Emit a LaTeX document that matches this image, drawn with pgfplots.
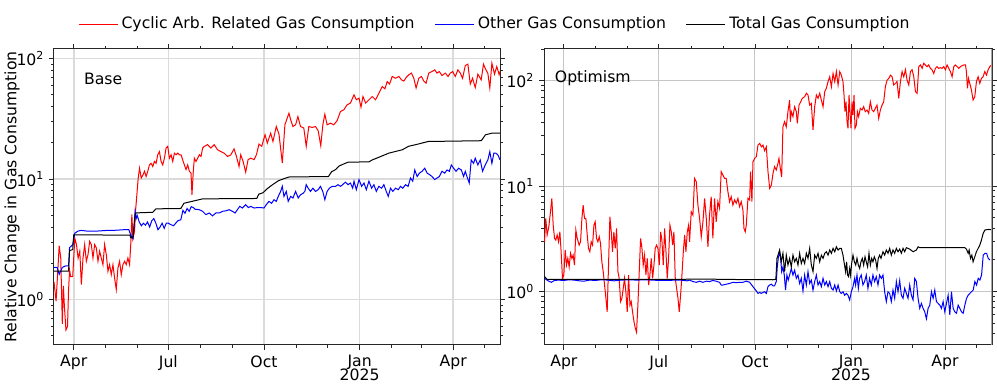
\documentclass[border=0pt]{standalone}
\usepackage{fontspec}
\setmainfont{DejaVu Sans}
\usepackage{pgfplots}
\pgfplotsset{compat=1.18}

\newcommand{\sups}[1]{\raisebox{3.9pt}{\fontsize{6.6}{7}\selectfont #1}}

% 1 px of the reference = 0.6pt
\pgfplotsset{
  gaspanel/.style={
    scale only axis, height=177.6pt,
    xmin=-19, xmax=410,
    axis line style={black!85, line width=0.6pt},
    tick align=outside, major tick length=3pt, minor tick length=1.8pt,
    every tick/.style={black!85, line width=0.5pt},
    xtick={0,91,183,275,365},
    xticklabels={Apr,Jul,Oct,{Jan\\[-1.7pt]2025},Apr},
    xticklabel style={align=center, font=\fontsize{9.4}{9.6}\selectfont},
    minor xtick={30,61,122,153,214,244,306,334,395},
    ytick={1,10,100},
    yticklabels={10\sups{0},10\sups{1},10\sups{2}},
    yticklabel style={font=\fontsize{9.4}{11}\selectfont},
    minor ytick={0.4,0.5,0.6,0.7,0.8,0.9,2,3,4,5,6,7,8,9,20,30,40,50,60,70,80,90,200},
    xmajorgrids, ymajorgrids,
    every axis plot/.append style={line width=0.6pt},
  },
}

\begin{document}
\fontsize{9.4}{11}\selectfont
\begin{tikzpicture}
\path[use as bounding box] (0,0) rectangle (598.2pt,232.2pt);

\begin{axis}[ymode=log, gaspanel, at={(32.4pt,25.2pt)}, anchor=south west, width=267.6pt,
  ymin=0.42, ymax=120,
  major grid style={gray!28, line width=0.9pt},
  ylabel={Relative Change in Gas Consumption},
  ylabel style={at={(axis description cs:-0.094,0.5)}, anchor=center},
  legend style={at={(0.99,1.084)}, anchor=center, draw=none, fill=none,
    legend columns=3, font=\fontsize{9.4}{11}\selectfont,
    /tikz/every even column/.append style={column sep=10pt}},
  legend image code/.code={\draw[#1] (0pt,0pt) -- (21pt,0pt); \path (21pt,0pt) -- (23.4pt,0pt);},
]
\addplot[red] coordinates {
(-19,1.4) (-17,0.97) (-14,2.8) (-12.5,2.2) (-11,0.63) (-10,1.3) (-9,0.88) (-7.5,0.56) (-6,0.6) (-5,1.2) (-4,1.75) (-3,1.55) (-1,1.55)
(1,3.24) (2.6,2.86) (4.2,2.21) (5.8,2.52) (7.3,1.33) (8.9,2.21) (10.5,2.86) (12.1,2.08) (13.7,2.36) (15.3,3.05) (16.9,2.86) (18.5,2.21)
(20.1,2.86) (21.7,2.68) (23.3,2.08) (24.9,2.52) (26.5,2.21) (28.1,1.95) (29.7,2.86) (31.3,2.36) (32.9,1.72) (34.5,1.95) (36.1,1.61)
(37.7,1.95) (39.3,1.51) (40.9,1.21) (42.5,1.83) (44.1,2.08) (45.7,1.61) (47.3,1.95) (48.9,2.08) (50.5,1.95) (52.1,2.21) (53.7,1.95)
(55,3.05) (55.9,5.1) (56.9,3.2) (58.5,3.7) (59.4,5.4) (60.7,7.4) (62,10.2) (63.3,12.3) (64.9,10.2) (66.5,10.8) (68.1,11.6) (69.6,10.5)
(71.2,11.6) (72.8,13.1) (74.4,13.5) (76,12.7) (77.6,14.0) (79.2,13.5) (80.8,15.9) (82.4,16.9) (84,14.0) (85.6,13.1) (87.2,14.9)
(88.8,18.1) (90.4,18.7) (92,14.9) (93.6,15.9) (95.2,14.0) (96.8,16.4) (98.4,15.9) (100,16.4) (101.6,15.9) (103.2,15.9) (104.8,14.4)
(106.4,13.1) (108,12.0) (109.6,13.1) (111.2,11.6) (112.8,11.2) (113.7,7.4) (115,11.6) (116,14.9) (117.6,14.0) (119.2,14.9) (120.8,15.9)
(122.4,15.4) (124,18.1) (125.6,18.7) (128.7,19.3) (131.9,18.1) (135.1,19.3) (138.3,17.5) (141.5,16.9) (144.7,16.4) (147.9,15.4)
(151.1,15.9) (154.2,17.8) (156.5,15.4) (159.0,12.7) (160.6,15.9) (162.9,14.0) (165.4,11.4) (167.7,14.5) (170.2,14.9) (173.4,14.5)
(175.7,15.9) (178.2,19.5) (180.8,18.7) (184.0,23.3) (186.2,19.9) (189.4,24.0) (191.6,20.5) (194.8,27.3) (197.4,23.6) (200.6,13.6)
(203.1,28.2) (207.0,35.2) (208.6,31.1) (210.8,27.3) (213.4,28.2) (215.6,33.0) (218.1,27.3) (221.3,26.5) (223.6,18.7) (226.1,27.3)
(229.3,26.8) (232.5,27.3) (235.1,25.2) (237.6,18.9) (239.6,28.2) (241.5,34.5) (243.7,28.2) (246.9,29.1) (250.1,28.2) (253.3,30.5)
(256.5,36.3) (259.7,37.5) (262.9,41.3) (266.1,42.7) (269.6,50.0) (271.8,45.5) (274.4,46.9) (276.3,39.5) (278.2,48.4) (280.8,42.7)
(284.0,45.5) (287.1,48.4) (290.3,45.5) (293.5,51.6) (296.7,58.6) (299.3,56.0) (301.5,64.5) (303.8,61.4) (306.3,71.0) (309.5,68.6)
(312.7,71.0) (315.3,66.5) (317.5,65.0) (319.8,69.7) (322.3,73.4) (324.8,75.7) (327.1,68.6) (329.3,56.9) (331.9,68.6) (334.4,71.0)
(336.7,65.0) (338.9,62.5) (341.5,75.7) (344.6,78.0) (347.2,80.6) (349.4,75.7) (351.6,78.0) (354.2,72.3) (357.4,75.7) (360.0,71.0)
(362.2,75.7) (364.5,78.0) (367.0,71.0) (369.5,80.6) (371.8,75.7) (374.0,68.6) (376.6,87.4) (379.1,89.8) (381.4,61.4) (383.6,68.6)
(386.2,57.4) (388.7,74.2) (391.9,66.5) (394.1,89.8) (396.4,80.6) (398.3,75.7) (400.2,56.9) (402.2,91.6) (404.7,74.2) (406.9,85.9)
(409.2,73.4) (410,78)
};
\addlegendentry{Cyclic Arb. Related Gas Consumption}
\addplot[blue] coordinates {
(-19,1.85) (-16,1.85) (-14,1.62) (-11,1.85) (-8,1.9) (-5,1.9) (-4,2.7) (-1,2.85) (1,3.55) (4,3.7) (7,3.75) (13,3.7) (22,3.7) (32,3.75)
(38,3.75) (48,3.8) (53,3.8) (55,3.4) (57,3.2) (58,4.0) (59,5.4) (60,4.7) (61,5.0) (63,4.4) (65,4.1) (67,4.3) (69,4.15) (71,4.4)
(73,4.0) (75,4.5) (77,4.7) (79,4.3) (81,3.8) (83,4.0) (85,4.3) (87,3.9) (89,4.3) (91,4.3) (93,4.2) (96,4.1) (100,4.5) (103,4.6)
(105,5.5) (107,5.2) (109,5.7) (111,5.4) (113,5.9) (115,5.8) (117,5.6) (119,5.6) (120.7,5.57) (123.9,5.40) (127.1,5.07) (130.3,5.23)
(133.5,4.95) (136.7,5.23) (139.9,5.23) (143.1,5.40) (146.3,5.45) (149.5,5.57) (152.6,5.40) (155.2,5.23) (157.4,5.57) (159.7,5.94)
(162.2,5.75) (165.4,6.13) (168.0,5.8) (170.2,5.94) (173.4,5.75) (176.6,5.8) (179.8,5.8) (183.0,5.75) (185.2,6.13) (187.8,6.53)
(190.3,6.3) (192.6,6.74) (194.8,6.53) (196.7,7.18) (199.0,7.90) (200.6,8.7) (202.2,7.18) (204.4,7.90) (206.3,6.53) (208.6,7.18)
(210.8,6.96) (213.4,7.90) (215.9,6.96) (218.1,7.41) (220.4,7.6) (222.3,7.90) (223.6,8.98) (225.5,8.4) (227.7,7.90) (230.0,8.4)
(232.5,7.90) (235.1,8.16) (237.3,8.7) (239.5,7.90) (241.5,6.74) (243.7,7.90) (245.9,8.4) (248.5,8.7) (251.7,8.7) (254.2,8.98)
(256.5,8.7) (258.7,8.98) (261.3,9.43) (263.8,8.98) (266.1,9.27) (268.3,8.4) (269.6,9.6) (271.8,8.16) (274.4,9.9) (276.9,8.7)
(279.2,9.27) (281.4,8.16) (283.9,9.6) (286.5,8.4) (288.7,8.98) (291.0,7.9) (293.5,8.7) (296.1,8.4) (298.3,8.98) (300.6,7.9)
(302.5,7.18) (304.7,8.4) (306.9,7.9) (309.5,8.4) (312.1,8.16) (314.3,8.7) (316.5,8.4) (319.1,8.98) (321.6,8.7) (323.9,10.2)
(326.1,9.6) (328.0,11.9) (330.3,10.5) (332.5,11.2) (335.1,11.6) (337.6,12.3) (339.9,11.2) (342.1,10.9) (344.6,10.5) (347.2,9.9)
(349.4,10.2) (351.7,10.5) (354.2,11.6) (356.8,11.2) (359.0,11.9) (361.3,11.6) (363.2,13.1) (365.4,12.3) (367.7,11.6) (370.2,12.3)
(372.8,11.9) (375.0,10.5) (376.6,11.6) (378.2,10.5) (380.4,9.27) (382.3,14.4) (384.6,13.5) (386.2,14.9) (388.7,13.1) (391.0,14.4)
(393.2,11.6) (395.8,13.1) (398.3,14.4) (400.2,16.9) (402.2,13.5) (404.1,16.4) (406.0,16.4) (407.9,15.9) (410.1,14.4)
};
\addlegendentry{Other Gas Consumption}
\addplot[black] coordinates {
(-19,1.72) (-5,1.72) (-4,2.55) (-1,2.6) (0,3.45) (54,3.42) (55,3.25) (57,3.3) (59,5.1) (60,5.24) (76,5.3) (79,5.66) (103,5.7)
(106,6.3) (124,6.85) (176,6.9) (178,7.5) (182,7.7) (186,8.3) (189,8.7) (193,9.2) (197,9.7) (204,10.2) (207,10.4) (245,10.5)
(248,11.5) (252,12.0) (255,12.8) (261,13.5) (264,13.8) (284,13.9) (287,14.4) (293,15.1) (303,16.4) (309,16.9) (316,17.5)
(322,18.7) (329,19.3) (341,20.5) (392,20.8) (396,23.3) (402,24.0) (410,24.0)
};
\addlegendentry{Total Gas Consumption}
\node[anchor=west] at (rel axis cs:0.055,0.9) {Base};
\end{axis}

\begin{axis}[ymode=log, gaspanel, at={(326.4pt,25.2pt)}, anchor=south west, width=268.8pt,
  ymin=0.31, ymax=200,
  major grid style={gray!45, line width=0.6pt},
]
\addplot[red] coordinates {
(-18.5,2.96) (-17.3,4.93) (-16,3.43) (-14.4,4.11) (-12.8,5.7) (-11.5,7.64) (-10.2,4.26) (-8.9,3.19) (-7.7,3.07) (-6.4,3.43)
(-5.1,2.96) (-3.8,3.68) (-2.6,2.38) (-1.3,1.33) (0,1.43) (1.3,2.47) (2.6,1.78) (3.8,2.06) (5.1,1.71) (6.4,2.30) (7.7,2.06)
(8.9,2.21) (10.2,1.78) (11.5,3.82) (12.8,3.19) (14.7,2.75) (16,2.96) (17.3,4.93) (18.5,6.6) (19.8,4.93) (21.1,4.93) (22.4,3.43)
(23.6,2.56) (24.9,2.38) (26.2,2.96) (27.5,2.75) (28.8,4.26) (30,4.58) (31.3,3.19) (32.6,2.96) (33.9,3.30) (35.1,2.86) (36.4,1.91)
(37.7,1.54) (39,1.15) (40.3,0.86) (41.5,0.64) (42.8,1.78) (44.1,5.11) (45.4,3.68) (46.6,2.38) (47.9,3.68) (49.2,2.56) (50.5,3.96)
(51.8,1.54) (53,1.33) (54.3,0.80) (55.6,0.86) (56.9,1.07) (58.1,1.33) (59.4,0.99) (60.7,0.64) (62,1.43) (63.3,0.74) (64.5,0.80)
(65.8,0.64) (67.1,0.52) (68.4,0.45) (69.6,0.41) (70.9,0.74) (72.2,1.54) (73.5,3.19) (74.8,2.56) (76,1.78) (77.3,2.21) (78.6,1.43)
(79.9,2.06) (81.2,1.15) (82.4,1.43) (83.7,2.06) (85,1.33) (86.3,1.78) (87.5,2.56) (88.8,2.75) (90.1,2.56) (91.4,1.78) (92.7,3.68)
(93.9,3.07) (95.2,1.78) (96.5,3.96) (97.8,2.38) (99,1.33) (100.3,2.06) (101.6,4.26) (102.9,3.68) (104.2,2.75) (105.4,3.68)
(106.7,1.33) (108,1.07) (109.3,0.86) (110.5,0.64) (111.8,0.92) (113.1,1.43) (114.4,2.38) (115.7,3.43) (116.9,2.38) (118.2,3.68)
(119.5,4.26) (120.4,2.96) (122.0,5.70) (123.6,5.3) (125.2,11.8) (126.8,11.0) (128.4,6.6) (130.0,4.93) (131.6,3.30) (133.2,4.58)
(134.8,7.64) (136.4,4.93) (138.0,2.65) (139.5,5.3) (141.1,7.92) (142.7,3.19) (144.3,7.64) (145.9,4.58) (147.5,7.1) (149.1,6.14)
(150.7,13.7) (152.3,12.7) (153.9,11.8) (155.5,11.8) (157.1,8.84) (158.7,7.1) (160.3,7.92) (161.9,6.6) (163.5,7.37) (165.1,6.85)
(166.7,7.64) (168.3,6.37) (169.9,7.1) (171.5,5.92) (172.5,3.96) (173.7,3.68) (174.7,4.26) (176.3,7.64) (177.9,7.37) (178.8,13.7)
(180.1,7.1) (181.1,17.0) (182.7,18.3) (184.3,19.0) (185.9,24.5) (187.5,25.4) (189.1,23.6) (190.7,24.5) (192.3,21.6) (193.9,23.6)
(195.5,13.7) (197.1,9.5) (198.7,10.2) (200.3,13.2) (201.8,15.3) (203.4,14.2) (205.0,16.4) (206.0,18.3) (207.3,14.7) (208.6,12.2)
(209.8,36.5) (211.4,40.8) (213.0,36.5) (214.6,50.8) (216.2,65.5) (216.9,40.8) (217.8,50.8) (219.4,45.6) (221.0,56.6) (222.6,50.8)
(223.6,39.3) (225.2,58.7) (226.8,63.1) (228.4,68.0) (230.6,70.6) (232.2,76.0) (233.8,73.2) (235.4,58.7) (237.0,60.9) (238.6,34.1)
(240.2,56.6) (241.8,73.2) (243.4,68.0) (245.0,76.0) (246.6,65.5) (248.2,56.6) (249.8,78.6) (251.4,84.7) (253.0,98.1) (254.6,109)
(256.2,87.8) (257.8,117) (259.4,98.1) (261.0,122) (262.6,91) (264.2,122) (265.7,113) (267.3,98.1) (268.3,73.2) (269.2,50.8)
(270.2,63.1) (271.2,40.8) (272.1,35.3) (273.1,73.2) (274.0,50.8) (275.0,35.3) (276.0,63.1) (276.9,47.3) (277.9,73.2) (278.8,35.3)
(280.1,37.9) (281.1,50.8) (282.3,45.6) (283.9,54.6) (285.5,52.7) (287.1,56.6) (288.7,50.8) (290.3,52.7) (291.9,49.0) (293.5,63.1)
(295.1,52.7) (296.7,50.8) (298.3,54.6) (299.9,58.7) (301.5,43.9) (303.1,52.7) (304.7,58.7) (306.3,63.1) (307.9,87.8) (309.5,101)
(311.1,105) (312.7,113) (314.3,109) (315.9,91) (317.5,94.4) (319.1,98.1) (320.7,68.0) (322.3,98.1) (323.9,122) (325.5,109)
(327.1,127) (328.7,101) (330.3,91) (331.9,122) (333.5,127) (335.1,109) (336.7,78.6) (338.3,76.0) (339.9,136) (341.5,141)
(343.1,131) (344.6,146) (346.2,141) (347.8,136) (349.4,141) (351.0,131) (352.6,127) (354.2,117) (355.8,131) (357.4,136)
(359.0,131) (360.6,133) (362.2,131) (363.8,136) (365.4,127) (367.0,141) (368.6,131) (370.2,122) (371.8,109) (373.4,136)
(375.0,141) (376.6,136) (378.2,131) (379.8,136) (381.4,139) (383.0,141) (384.6,141) (385.5,122) (386.5,84.7) (387.5,105)
(388.7,94.4) (390.3,81.7) (391.9,65.5) (393.5,70.6) (395.1,98.1) (396.7,109) (398.3,94.4) (399.9,105) (401.5,109) (403.1,122)
(404.7,113) (406.3,127) (407.9,136) (409,140)
};
\addplot[blue] coordinates {
(-18.5,1.33) (-15,1.26) (-12,1.22) (-9,1.27) (-5,1.28) (0,1.27) (5,1.29) (10,1.28) (15,1.26) (19,1.25) (25,1.28) (30,1.27)
(36,1.29) (42,1.28) (48,1.26) (55,1.28) (62,1.29) (70,1.28) (78,1.29) (85,1.28) (92,1.27) (100,1.27) (106,1.28) (112,1.28)
(118,1.26) (120.4,1.28) (123.6,1.24) (126.8,1.22) (130.0,1.25) (133.2,1.22) (136.4,1.25) (139.5,1.24) (142.7,1.27) (145.9,1.25)
(149.1,1.22) (150.7,1.15) (152.3,1.15) (155.5,1.17) (158.7,1.19) (161.9,1.22) (165.1,1.21) (168.3,1.22) (171.5,1.22) (174.7,1.25)
(177.9,1.22) (181.1,1.11) (184.3,1.01) (185.9,0.957) (187.5,0.978) (189.1,0.957) (190.7,0.978) (192.3,0.993) (193.9,0.957)
(195.5,1.11) (197.1,1.15) (198.7,1.17) (200.3,1.13) (201.8,1.13) (203.4,1.24) (204.4,1.71) (205.3,2.06) (206.6,2.38) (207.6,2.06)
(208.6,1.54) (209.8,1.71) (211.1,1.43) (212.3,1.03) (213.6,1.43) (214.9,1.28) (216.2,1.43) (217.8,1.65) (219.4,1.43) (221.0,1.59)
(222.6,1.33) (224.2,1.43) (225.8,1.19) (227.4,1.33) (229.0,1.01) (230.6,1.43) (232.2,1.15) (233.8,1.54) (235.4,1.19) (237.0,1.28)
(238.6,1.03) (240.2,1.24) (241.8,1.43) (243.4,1.15) (245.0,1.24) (246.6,1.11) (248.2,1.33) (249.8,1.15) (251.4,1.24) (253.0,1.11)
(254.6,1.24) (256.2,1.07) (257.8,1.03) (259.4,1.15) (261.0,1.01) (262.6,1.15) (264.2,0.993) (265.7,0.957) (267.3,0.993)
(268.9,0.92) (270.5,0.957) (272.1,0.92) (273.7,0.83) (275.3,0.993) (276.9,1.11) (278.5,1.33) (279.4,1.15) (280.7,1.43) (282.0,1.07)
(283.2,1.33) (284.8,1.43) (286.4,1.15) (288.0,1.24) (289.6,1.43) (291.2,1.07) (292.8,1.33) (294.4,1.15) (296.0,1.43) (297.6,1.24)
(299.2,1.38) (300.8,1.15) (302.4,1.43) (304.0,1.33) (305.6,1.43) (307.2,0.993) (308.8,0.80) (310.4,0.993) (312.0,0.957) (313.6,0.80)
(315.2,1.03) (316.8,0.86) (318.4,1.24) (320.0,0.993) (321.6,1.27) (323.2,0.92) (324.8,0.86) (326.4,1.07) (328.0,0.957) (329.6,0.86)
(331.2,1.15) (332.8,0.92) (334.4,0.83) (336.0,1.33) (337.6,1.24) (339.2,0.86) (340.8,0.69) (342.4,0.77) (344.0,0.69) (345.6,0.64)
(347.2,0.55) (348.8,0.69) (350.4,0.74) (352.0,0.993) (353.6,0.86) (355.2,1.03) (356.8,0.80) (358.4,0.77) (360.0,0.74) (361.6,0.69)
(363.2,0.80) (364.8,0.64) (366.4,0.77) (368.0,0.92) (369.6,0.60) (371.2,0.993) (372.8,0.69) (374.4,0.64) (376.0,0.62) (377.6,0.74)
(379.2,0.69) (380.8,0.64) (382.4,0.62) (384.0,0.74) (385.6,0.86) (387.2,0.92) (388.8,0.957) (390.4,0.993) (392.0,1.03) (393.6,1.24)
(395.2,1.15) (396.8,1.33) (398.4,1.28) (400.0,1.43) (401.6,2.21) (403.2,2.30) (404.8,2.30) (406.4,2.06) (408.0,1.98)
};
\addplot[black] coordinates {
(-18.5,1.38) (-16,1.30) (0,1.30) (50,1.30) (100,1.30) (140,1.31) (150,1.30) (200,1.29) (203,1.30) (204.1,2.06) (206.6,2.47)
(208.2,1.91) (209.8,2.30) (211.4,1.54) (213.0,2.21) (214.6,1.78) (216.2,2.06) (217.8,1.71) (219.4,2.21) (221.0,1.91) (222.6,2.06)
(224.2,1.78) (225.8,2.30) (227.4,1.84) (229.0,2.06) (230.6,1.84) (232.2,2.30) (233.8,2.06) (235.4,2.56) (237.0,1.78) (238.6,1.54)
(240.2,2.21) (241.8,2.06) (243.4,2.30) (245.0,1.91) (246.6,2.21) (248.2,2.06) (249.8,2.30) (251.4,2.38) (253.0,2.21) (254.6,2.47)
(256.2,2.30) (257.8,2.56) (259.4,2.38) (261.0,2.65) (262.6,2.47) (264.2,2.56) (265.7,2.56) (267.3,2.21) (268.8,1.78) (269.8,1.54)
(270.8,1.91) (271.7,1.43) (272.7,1.38) (273.7,1.65) (274.6,1.43) (275.6,1.84) (276.9,2.21) (278.2,1.91) (279.5,1.78) (280.7,2.06)
(282.0,1.78) (283.3,1.65) (284.5,1.91) (285.8,2.06) (287.1,1.78) (288.4,2.13) (289.6,1.91) (290.9,1.71) (292.2,2.30) (293.5,1.78)
(294.8,2.06) (296.0,1.91) (297.3,2.13) (298.6,1.98) (299.9,1.65) (301.1,2.06) (302.4,2.21) (303.7,2.06) (305.6,2.38) (307.2,2.21)
(308.8,2.47) (310.4,2.30) (312.0,2.56) (313.6,2.21) (315.2,2.47) (316.8,2.30) (318.4,2.56) (320.0,2.38) (321.6,2.52) (323.2,2.30)
(324.8,2.56) (326.4,2.38) (328.0,2.60) (331.2,2.52) (334.4,2.38) (337.6,2.47) (339.2,2.65) (340.8,2.60) (347.2,2.60) (360,2.60)
(372.8,2.60) (384,2.60) (385.5,2.52) (387.2,2.30) (388.1,2.47) (389.4,2.06) (390.7,2.21) (391.9,1.91) (393.5,2.13) (395.1,2.38)
(396.7,2.56) (398.3,2.75) (399.9,3.07) (401.5,3.55) (403.1,3.82) (406.3,3.88) (409,3.85)
};
\node[anchor=west] at (rel axis cs:0.012,0.9) {Optimism};
\draw[gray!70, line width=1.2pt] (rel axis cs:1,0) -- (rel axis cs:1,1);
\end{axis}
\end{tikzpicture}
\end{document}
